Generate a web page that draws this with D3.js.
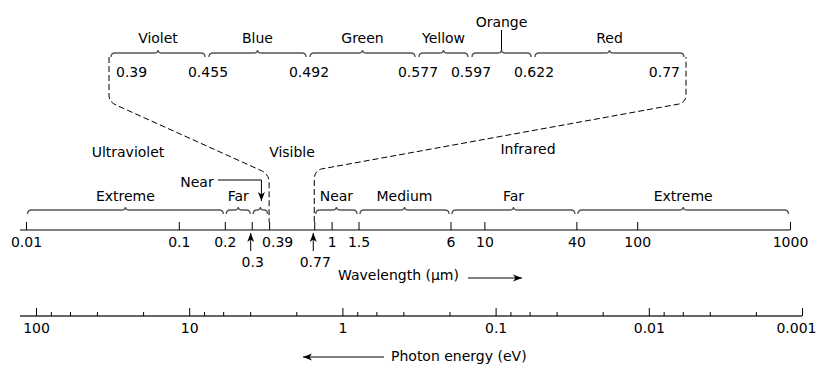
<!DOCTYPE html>
<html lang="en">
<head>
<meta charset="utf-8">
<title>Electromagnetic spectrum: optical region</title>
<script src="https://cdn.jsdelivr.net/npm/d3@7"></script>
<style>
  body { margin: 0; background: #fff; }
  svg text { font-family: "DejaVu Sans", Verdana, sans-serif; font-size: 14px; fill: #000; }
</style>
</head>
<body>
<script>
// wavelength axis (micrometres)
var waveTicks = [0.01, 0.1, 0.2, 0.3, 0.39, 0.77, 1, 1.5, 6, 10, 40, 100, 1000];
var waveBelow = [0.3, 0.77];          // labels pushed under the axis with an arrow
var uvBands = [
  { name: "Extreme", from: 0.01, to: 0.2 },
  { name: "Far", from: 0.2, to: 0.3 },
  { name: "Near", from: 0.3, to: 0.39 }
];
var irBands = [
  { name: "Near", from: 0.77, to: 1.5 },
  { name: "Medium", from: 1.5, to: 6 },
  { name: "Far", from: 6, to: 40 },
  { name: "Extreme", from: 40, to: 1000 }
];
var regions = ["Ultraviolet", "Visible", "Infrared"];
// visible detail
var visBounds = [0.39, 0.455, 0.492, 0.577, 0.597, 0.622, 0.77];
var visColours = ["Violet", "Blue", "Green", "Yellow", "Orange", "Red"];
// photon energy axis (eV)
var energyMajor = [100, 10, 1, 0.1, 0.01, 0.001];
var energyMinor = [80, 60, 40, 20, 8, 6, 4, 2, 0.8, 0.6, 0.4, 0.2,
                   0.08, 0.06, 0.04, 0.02, 0.008, 0.006, 0.004, 0.002];

var width = 818, height = 369;
var svg = d3.select("body").append("svg")
  .attr("width", width).attr("height", height);

svg.append("rect").attr("width", width).attr("height", height).attr("fill", "white");

var defs = svg.append("defs");
defs.append("marker")
  .attr("id", "head")
  .attr("viewBox", "-1 -5 11 10")
  .attr("refX", 9).attr("refY", 0)
  .attr("markerWidth", 11).attr("markerHeight", 10)
  .attr("markerUnits", "userSpaceOnUse")
  .attr("orient", "auto")
  .append("path")
  .attr("d", "M0,-3.5L9,0L0,3.5L2.5,0Z")
  .attr("fill", "black");

var xw = d3.scaleLog().domain([0.01, 1000]).range([26, 790]);
var xe = d3.scaleLog().domain([100, 0.001]).range([36, 802]);
// the visible strip is drawn schematic, piecewise
var xv = d3.scaleLinear().domain(visBounds).range([109, 207, 308, 417, 470, 533, 686]);

var axisY = 230, energyY = 316, visY = 53, bandY = 210;

function brace(x1, x2, y) {
  var m = (x1 + x2) / 2, r = Math.min(4, (x2 - x1) / 4);
  return "M" + x1 + "," + (y + 4) +
    "Q" + x1 + "," + y + " " + (x1 + r) + "," + y +
    "L" + (m - r) + "," + y +
    "Q" + m + "," + y + " " + m + "," + (y - 3) +
    "Q" + m + "," + y + " " + (m + r) + "," + y +
    "L" + (x2 - r) + "," + y +
    "Q" + x2 + "," + y + " " + x2 + "," + (y + 4);
}

// ---- wavelength axis
svg.append("line")
  .attr("x1", 20).attr("x2", xw(1000))
  .attr("y1", axisY).attr("y2", axisY)
  .attr("stroke", "#555").attr("stroke-width", 1.6);

var gw = svg.append("g")
  .attr("transform", "translate(0," + axisY + ")")
  .call(d3.axisBottom(xw)
    .tickValues(waveTicks)
    .tickSizeInner(-8).tickSizeOuter(0).tickPadding(7)
    .tickFormat(function(d) { return waveBelow.indexOf(d) >= 0 ? "" : String(d); }));
gw.select(".domain").remove();
gw.selectAll("line").attr("stroke", "black");
gw.selectAll("text").attr("font-size", null).attr("font-family", null)
  .attr("dx", function(d) { return d === 0.39 ? 8 : 0; });

// labels under the axis with arrows
svg.selectAll("below-label")
  .data(waveBelow).enter()
  .append("text")
  .attr("x", function(d) { return xw(d) + 1; })
  .attr("y", 267)
  .attr("text-anchor", "middle")
  .text(function(d) { return String(d); });
svg.selectAll("below-arrow")
  .data(waveBelow).enter()
  .append("line")
  .attr("x1", function(d) { return xw(d) - 1; })
  .attr("x2", function(d) { return xw(d) - 1; })
  .attr("y1", 251).attr("y2", 233)
  .attr("stroke", "black").attr("stroke-width", 1)
  .attr("marker-end", "url(#head)");

// UV and IR bands
var bands = uvBands.concat(irBands);
svg.selectAll("band")
  .data(bands).enter()
  .append("path")
  .attr("d", function(d) { return brace(xw(d.from) + 1.5, xw(d.to) - 1.5, bandY); })
  .attr("fill", "none").attr("stroke", "#555").attr("stroke-width", 1.4);
svg.selectAll("band-label")
  .data(bands.filter(function(d) { return !(d.name === "Near" && d.to === 0.39); }))
  .enter()
  .append("text")
  .attr("x", function(d) { return (xw(d.from) + xw(d.to)) / 2; })
  .attr("y", 201)
  .attr("text-anchor", "middle")
  .text(function(d) { return d.name; });

// near UV callout
var nearUV = uvBands[2];
var nx = (xw(nearUV.from) + xw(nearUV.to)) / 2 + 1;
svg.append("text")
  .attr("x", 197).attr("y", 187)
  .attr("text-anchor", "middle")
  .text(nearUV.name);
svg.append("path")
  .attr("d", "M218,180H" + nx + "V201")
  .attr("fill", "none").attr("stroke", "black").attr("stroke-width", 1)
  .attr("marker-end", "url(#head)");

// region titles
svg.selectAll("region")
  .data(regions).enter()
  .append("text")
  .attr("x", function(d, i) { return [128, 292, 528][i]; })
  .attr("y", function(d, i) { return [157, 157, 154][i]; })
  .attr("text-anchor", "middle")
  .text(function(d) { return d; });

// ---- visible strip
var vis = visColours.map(function(c, i) { return { name: c, from: visBounds[i], to: visBounds[i + 1] }; });
svg.selectAll("vis-band")
  .data(vis).enter()
  .append("path")
  .attr("d", function(d) { return brace(xv(d.from) + 2, xv(d.to) - 2, visY); })
  .attr("fill", "none").attr("stroke", "#555").attr("stroke-width", 1.4);
svg.selectAll("vis-label")
  .data(vis).enter()
  .append("text")
  .attr("x", function(d) { return (xv(d.from) + xv(d.to)) / 2; })
  .attr("y", function(d) { return d.name === "Orange" ? 27 : 43; })
  .attr("text-anchor", "middle")
  .text(function(d) { return d.name; });
var orange = vis[4];
svg.append("line")
  .attr("x1", (xv(orange.from) + xv(orange.to)) / 2)
  .attr("x2", (xv(orange.from) + xv(orange.to)) / 2)
  .attr("y1", 30).attr("y2", visY - 3)
  .attr("stroke", "black").attr("stroke-width", 1);

svg.selectAll("vis-tick")
  .data(visBounds).enter()
  .append("text")
  .attr("x", function(d, i) {
    if (i === 0) return xv(d) + 7;
    if (i === visBounds.length - 1) return xv(d) - 6;
    return xv(d) + 1;
  })
  .attr("y", 77)
  .attr("text-anchor", function(d, i) {
    return i === 0 ? "start" : (i === visBounds.length - 1 ? "end" : "middle");
  })
  .text(function(d) { return String(d); });

// dashed zoom connectors
var lx = xw(0.39), rx = xw(0.77), vl = xv(0.39), vr = xv(0.77);
var pl = d3.path();
pl.moveTo(vl, 57); pl.lineTo(vl, 95);
pl.quadraticCurveTo(vl, 102, vl + 7, 105);
pl.lineTo(lx - 7, 171);
pl.quadraticCurveTo(lx, 175, lx, 182);
pl.lineTo(lx, axisY - 8);
var pr = d3.path();
pr.moveTo(rx, axisY - 8); pr.lineTo(rx, 180);
pr.quadraticCurveTo(rx, 171, rx + 7, 169);
pr.lineTo(vr - 7, 104);
pr.quadraticCurveTo(vr, 102, vr, 95);
pr.lineTo(vr, 57);
svg.selectAll("connector")
  .data([pl.toString(), pr.toString()]).enter()
  .append("path")
  .attr("d", function(d) { return d; })
  .attr("fill", "none").attr("stroke", "black").attr("stroke-width", 1)
  .attr("stroke-dasharray", "6,3");

// wavelength title
svg.append("text")
  .attr("x", 338).attr("y", 280)
  .text("Wavelength (\u00b5m)");
svg.append("line")
  .attr("x1", 468).attr("x2", 522).attr("y1", 278).attr("y2", 278)
  .attr("stroke", "black").attr("stroke-width", 1)
  .attr("marker-end", "url(#head)");

// ---- photon energy axis
svg.append("line")
  .attr("x1", 20).attr("x2", xe(0.001))
  .attr("y1", energyY).attr("y2", energyY)
  .attr("stroke", "#333").attr("stroke-width", 1.4);

var ge = svg.append("g")
  .attr("transform", "translate(0," + energyY + ")")
  .call(d3.axisBottom(xe)
    .tickValues(energyMajor)
    .tickSizeInner(-8).tickSizeOuter(0).tickPadding(7)
    .tickFormat(function(d) { return String(d); }));
ge.select(".domain").remove();
ge.selectAll("text").attr("font-size", null).attr("font-family", null);
// last label sits flush with the right edge
ge.selectAll("text").filter(function(d) { return d === 0.001; })
  .attr("text-anchor", "end").attr("x", width - 2 - xe(0.001));

var gm = svg.append("g")
  .attr("transform", "translate(0," + energyY + ")")
  .call(d3.axisBottom(xe)
    .tickValues(energyMinor)
    .tickSizeInner(-4).tickSizeOuter(0)
    .tickFormat(""));
gm.select(".domain").remove();

svg.append("text")
  .attr("x", 391).attr("y", 361)
  .text("Photon energy (eV)");
svg.append("line")
  .attr("x1", 384).attr("x2", 303).attr("y1", 357).attr("y2", 357)
  .attr("stroke", "black").attr("stroke-width", 1)
  .attr("marker-end", "url(#head)");
</script>
</body>
</html>
